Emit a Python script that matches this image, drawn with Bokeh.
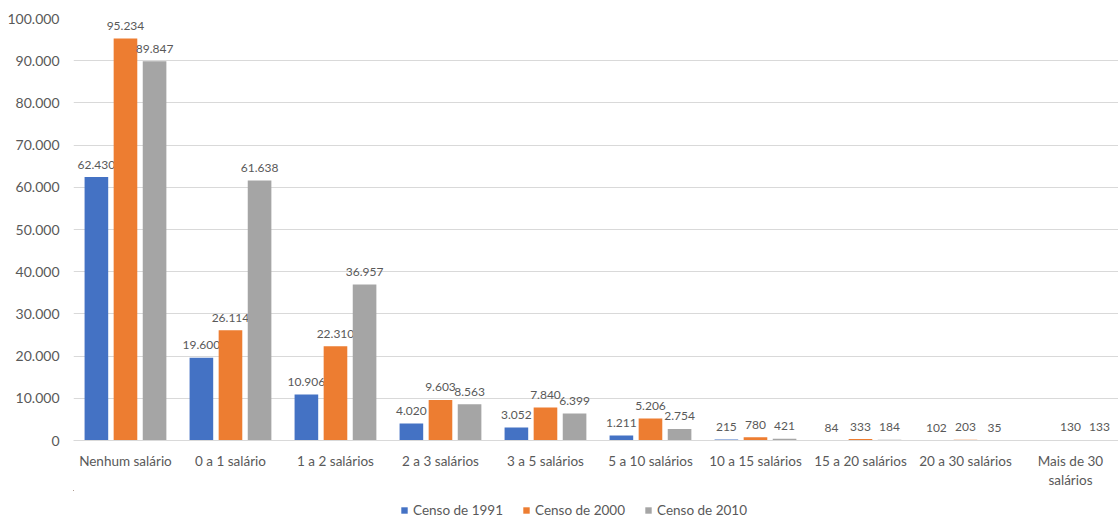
from bokeh.plotting import figure
from bokeh.layouts import column
from bokeh.models import ColumnDataSource, Range1d, FixedTicker, Legend, LegendItem
from bokeh.core.properties import value
from bokeh.embed import file_html
from bokeh.resources import INLINE

categories = ["Nenhum salário", "0 a 1 salário", "1 a 2 salários", "2 a 3 salários",
              "3 a 5 salários", "5 a 10 salários", "10 a 15 salários", "15 a 20 salários",
              "20 a 30 salários", "Mais de 30\nsalários"]
censo_1991 = [62430, 19600, 10906, 4020, 3052, 1211, 215, 84, 102, None]
censo_2000 = [95234, 26114, 22310, 9603, 7840, 5206, 780, 333, 203, 130]
censo_2010 = [89847, 61638, 36957, 8563, 6399, 2754, 421, 184, 35, 133]
series_names = ["Censo de 1991", "Censo de 2000", "Censo de 2010"]
colors = ["#4472C4", "#ED7D31", "#A5A5A5"]
y_ticks = list(range(0, 100001, 10000))

FONT = "Lato"
TXT = "#595959"

def fmt(v):
    return f"{v:,}".replace(",", ".")

W = 1118
p = figure(width=W, height=490, output_backend="svg", toolbar_location=None,
           x_range=Range1d(-0.495, -0.495 + (W - 73) / 105.0), y_range=Range1d(0, 100000),
           min_border_left=73, min_border_right=0, min_border_top=18, min_border_bottom=45)
p.outline_line_color = None
p.background_fill_color = "white"

# legend strip (shares the series' sources; zero-width bars out of view)
lg = figure(width=W, height=28, output_backend="svg", toolbar_location=None,
            x_range=Range1d(1000, 1001), y_range=Range1d(-3e6, -2e6),
            x_axis_location=None, y_axis_location=None,
            min_border_left=0, min_border_right=0, min_border_top=0, min_border_bottom=0)
lg.outline_line_color = None
lg.xgrid.visible = False
lg.ygrid.visible = False

offsets = [-0.277, 0.0, 0.277]
bar_w = 0.225
lr = []
for vals, col, off in zip([censo_1991, censo_2000, censo_2010], colors, offsets):
    xs = [i + off for i, v in enumerate(vals) if v is not None]
    ys = [v for v in vals if v is not None]
    src = ColumnDataSource(dict(x=xs, top=ys, lab=[fmt(v) for v in ys]))
    p.vbar(x="x", top="top", width=bar_w, source=src, fill_color=col, line_color=None)
    p.text(x="x", y="top", text="lab", source=src, text_align="center", text_baseline="middle",
           y_offset=-12.5, text_font=value(FONT), text_font_size="12px", text_color=TXT)
    lr.append(lg.vbar(x="x", top="top", width=0, source=src, fill_color=col, line_color=None))

p.xaxis.ticker = FixedTicker(ticks=list(range(len(categories))))
p.xaxis.major_label_overrides = {i: c for i, c in enumerate(categories)}
p.yaxis.ticker = FixedTicker(ticks=y_ticks)
p.yaxis.major_label_overrides = {t: fmt(t) for t in y_ticks}

for ax in (p.xaxis[0], p.yaxis[0]):
    ax.major_tick_line_color = None
    ax.minor_tick_line_color = None
    ax.major_tick_out = 0
    ax.major_tick_in = 0
    ax.major_label_text_font = FONT
    ax.major_label_text_color = TXT
p.xaxis.major_label_text_font_size = "13.5px"
p.xaxis.major_label_standoff = 12
p.yaxis.major_label_text_font_size = "14px"
p.yaxis.major_label_standoff = 14
p.yaxis.axis_line_color = None
p.xaxis.axis_line_color = "#D9D9D9"
p.xgrid.grid_line_color = None
p.ygrid.grid_line_color = "#D9D9D9"
p.ygrid.ticker = FixedTicker(ticks=y_ticks[1:])

legend = Legend(items=[LegendItem(label=n, renderers=[r]) for n, r in zip(series_names, lr)],
                orientation="horizontal", location=(327, 0))
legend.label_text_font = FONT
legend.label_text_font_size = "13.5px"
legend.label_text_color = TXT
legend.glyph_width = 8
legend.glyph_height = 8
legend.label_standoff = 5
legend.label_width = 104
legend.spacing = 5
legend.padding = 2
legend.margin = 0
legend.border_line_color = None
legend.background_fill_alpha = 0
legend.label_height = 14
lg.add_layout(legend, "center")

layout = column(p, lg, spacing=0)
open("out.html", "w").write(file_html(layout, INLINE))
